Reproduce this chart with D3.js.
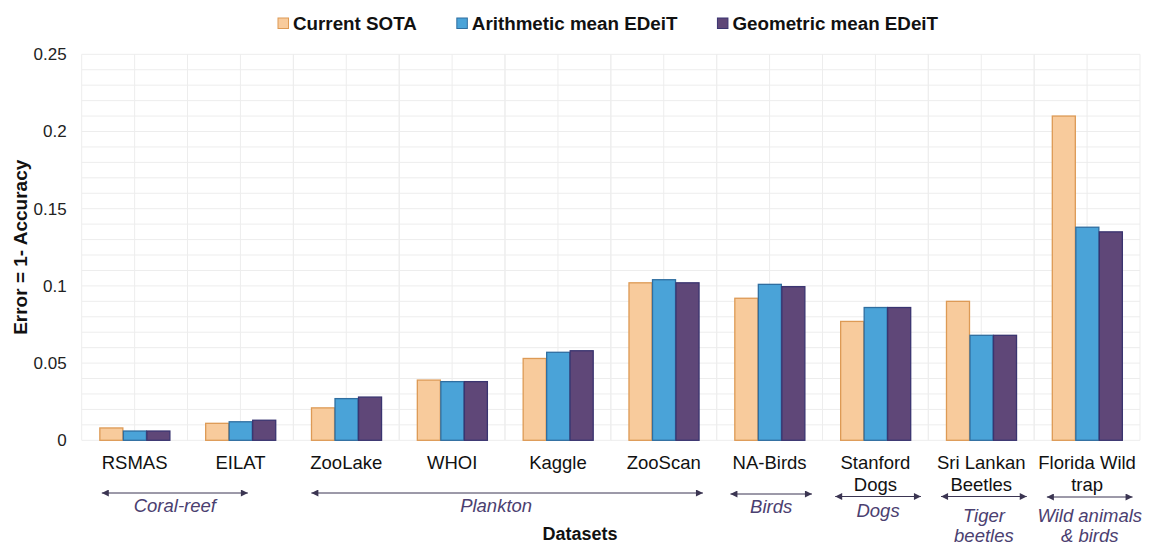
<!DOCTYPE html>
<html><head><meta charset="utf-8">
<script src="https://cdn.jsdelivr.net/npm/d3@7/dist/d3.min.js"></script>
<style>
body{margin:0;background:#fff;}
svg{display:block;font-family:"Liberation Sans",Arial,sans-serif;}
</style></head>
<body><svg id="chart" width="1157" height="544"></svg>
<script>
// ---- data ----
const categories = ["RSMAS","EILAT","ZooLake","WHOI","Kaggle","ZooScan","NA-Birds","Stanford Dogs","Sri Lankan Beetles","Florida Wild trap"];
const categoryLines = [["RSMAS"],["EILAT"],["ZooLake"],["WHOI"],["Kaggle"],["ZooScan"],["NA-Birds"],["Stanford","Dogs"],["Sri Lankan","Beetles"],["Florida Wild","trap"]];
const seriesNames = ["Current SOTA","Arithmetic mean EDeiT","Geometric mean EDeiT"];
const sota       = [0.008,0.011,0.021,0.039,0.053,0.102,0.092,0.077,0.090,0.210];
const arithmetic = [0.006,0.012,0.027,0.038,0.057,0.104,0.101,0.086,0.068,0.138];
const geometric  = [0.006,0.013,0.028,0.038,0.058,0.102,0.0995,0.086,0.068,0.135];
const yTicks = [0,0.05,0.1,0.15,0.2,0.25];
const yTickLabels = ["0","0.05","0.1","0.15","0.2","0.25"];
// domain groups: first/last category index, label lines
const groupNames = [["Coral-reef"],["Plankton"],["Birds"],["Dogs"],["Tiger","beetles"],["Wild animals","& birds"]];
const groupFrom = [0,2,6,7,8,9];
const groupTo   = [1,5,6,7,8,9];

// ---- layout / style ----
const fills   = ["#F8CB9C","#4AA3D8","#5F4778"];
const strokes = ["#DD9A55","#2F6EA0","#3A3470"];
const M = {left:81.7, right:1140, top:54.3, bottom:440.3};
const svg = d3.select("#chart");

const x = d3.scaleBand().domain(categories).range([M.left, M.right]).paddingInner(0).paddingOuter(0);
const xs = d3.scaleBand().domain(seriesNames).range([0, x.bandwidth()]).paddingInner(0).paddingOuter(0.75);
const y = d3.scaleLinear().domain([0,0.25]).range([M.bottom, M.top]);

// grid
const grid = svg.append("g").attr("stroke","#EDEDED").attr("stroke-width",1);
d3.range(0,0.2501,0.01).forEach(v=>{
  grid.append("line").attr("x1",M.left).attr("x2",M.right).attr("y1",y(v)).attr("y2",y(v));
});
categories.forEach(c=>{
  [0,0.5,1].forEach(f=>{
    const xx = x(c)+f*x.bandwidth();
    grid.append("line").attr("x1",xx).attr("x2",xx).attr("y1",M.top).attr("y2",M.bottom);
  });
});

// bars
const seriesData = [sota, arithmetic, geometric];
seriesData.forEach((vals,si)=>{
  svg.append("g").selectAll("rect").data(vals).join("rect")
    .attr("x",(d,i)=>x(categories[i])+xs(seriesNames[si])+0.5)
    .attr("y",d=>y(d))
    .attr("width",xs.bandwidth()-0.5)
    .attr("height",d=>y(0)-y(d))
    .attr("fill",fills[si]).attr("stroke",strokes[si]).attr("stroke-width",1.3);
});

// y axis
const yAxis = svg.append("g").attr("transform",`translate(${M.left-15},0)`)
  .call(d3.axisLeft(y).tickValues(yTicks).tickSize(0).tickPadding(0).tickFormat((d,i)=>yTickLabels[i]));
yAxis.select(".domain").remove();
yAxis.selectAll("text").attr("font-size",17).attr("fill","#222").attr("font-family","Liberation Sans, Arial, sans-serif");

svg.append("text").attr("transform",`translate(27,${(M.top+M.bottom)/2}) rotate(-90)`)
  .attr("text-anchor","middle").attr("font-size",19).attr("font-weight","bold").attr("fill","#111")
  .text("Error = 1- Accuracy");

// x labels
categoryLines.forEach((lines,i)=>{
  const cx = x(categories[i]) + x.bandwidth()/2;
  const t = svg.append("text").attr("text-anchor","middle").attr("font-size",18.5).attr("fill","#111");
  lines.forEach((ln,j)=>t.append("tspan").attr("x",cx).attr("y",469+j*22).text(ln));
});

// arrows
const defs = svg.append("defs");
["s","e"].forEach(k=>{
  defs.append("marker").attr("id","ah"+k).attr("viewBox","0 0 10 10").attr("refX",k==="e"?10:0).attr("refY",5)
    .attr("markerWidth",9).attr("markerHeight",7).attr("markerUnits","userSpaceOnUse").attr("orient","auto")
    .append("path").attr("d",k==="e"?"M0,0L10,5L0,10z":"M10,0L0,5L10,10z").attr("fill","#3B3552");
});
const arrowY = [493,493,494,496.5,496.5,497];
const groupLabelY = [511.5,512,513,516.5,521.5,521.5];
const groupLabelDx = [0,-11,0,0,0,0];
groupNames.forEach((names,g)=>{
  const isTwo = categoryLines[groupTo[g]].length>1;
  const a0 = x(categories[groupFrom[g]]) + x.bandwidth()*(isTwo?0.12:(g===0?0.19:(g===2?0.13:0.17)));
  const a1 = x(categories[groupTo[g]]) + x.bandwidth()*(isTwo?0.93:(g===0?0.57:(g===2?0.9:0.87)));
  svg.append("line").attr("x1",a0).attr("x2",a1).attr("y1",arrowY[g]).attr("y2",arrowY[g])
    .attr("stroke","#3B3552").attr("stroke-width",1)
    .attr("marker-start","url(#ahs)").attr("marker-end","url(#ahe)");
  const cx = (a0+a1)/2 + groupLabelDx[g];
  const t = svg.append("text").attr("text-anchor","middle").attr("font-size",18.5)
    .attr("font-style","italic").attr("fill","#4B4070");
  names.forEach((n,j)=>t.append("tspan").attr("x",cx).attr("y",groupLabelY[g]+j*20).text(n));
});

svg.append("text").attr("x",580).attr("y",540).attr("text-anchor","middle")
  .attr("font-size",18).attr("font-weight","bold").attr("fill","#111").text("Datasets");

// legend
let lx = 278;
seriesNames.forEach((n,i)=>{
  svg.append("rect").attr("x",lx).attr("y",18).attr("width",10.5).attr("height",10.5)
    .attr("fill",fills[i]).attr("stroke",strokes[i]).attr("stroke-width",1);
  const t = svg.append("text").attr("x",lx+15).attr("y",29.5).attr("font-size",18.8)
    .attr("font-weight","bold").attr("fill","#111").text(n);
  lx += 15 + t.node().getComputedTextLength() + 40;
});
</script></body></html>
